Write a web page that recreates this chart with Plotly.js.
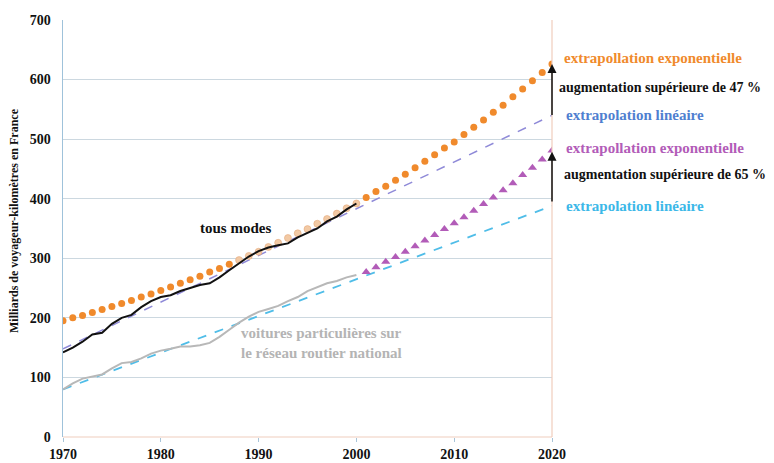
<!DOCTYPE html>
<html><head><meta charset="utf-8">
<script src="https://cdn.plot.ly/plotly-3.0.1.min.js"></script>
<style>body{margin:0;background:#fff}#c{width:774px;height:463px}</style>
</head><body><div id="c"></div>
<script>
var yearsObs = [1970,1971,1972,1973,1974,1975,1976,1977,1978,1979,1980,1981,1982,1983,1984,1985,1986,1987,1988,1989,1990,1991,1992,1993,1994,1995,1996,1997,1998,1999,2000];
var tousModes = [142,150,160,172,175,190,200,205,218,228,235,238,245,250,255,258,268,280,292,303,312,318,322,325,335,342,350,362,370,382,392];
var voitures = [80,90,98,102,105,115,124,126,132,140,145,148,152,152,154,158,168,180,192,202,210,215,220,228,235,245,252,258,262,268,272];

var yearsExpAll = [1970,1971,1972,1973,1974,1975,1976,1977,1978,1979,1980,1981,1982,1983,1984,1985,1986,1987,1988,1989,1990,1991,1992,1993,1994,1995,1996,1997,1998,1999,2000,2001,2002,2003,2004,2005,2006,2007,2008,2009,2010,2011,2012,2013,2014,2015,2016,2017,2018,2019,2020];
var expTous = [195,200,204,209,214,219,224,229,235,240,246,252,258,264,270,277,283,290,297,304,311,319,326,334,342,349,358,366,375,384,392,402,412,421,431,441,452,463,474,485,495,508,520,532,545,557,571,584,598,612,626];

var yearsExpVoit = [2001,2002,2003,2004,2005,2006,2007,2008,2009,2010,2011,2012,2013,2014,2015,2016,2017,2018,2019,2020];
var expVoit = [277,285,294,302,311,320,330,339,349,359,369,380,391,402,414,426,440,452,466,481];

var linYears = [1970,2020];
var linTous = [148,540];
var linVoit = [80,388];

var yTicks = [0,100,200,300,400,500,600,700];
var xTicks = [1970,1980,1990,2000,2010,2020];

var serif = 'Liberation Serif, Times New Roman, serif';

var nPale = 18;
var traces = [
  {x: linYears, y: linTous, mode:'lines', line:{color:'#8f8ad8', width:1.5, dash:'dash'}},
  {x: linYears, y: linVoit, mode:'lines', line:{color:'#4fbde8', width:1.8, dash:'dash'}},
  {x: yearsExpAll.slice(0,nPale), y: expTous.slice(0,nPale), mode:'markers', marker:{color:'#f08a2c', size:7}},
  {x: yearsExpAll.slice(nPale,31), y: expTous.slice(nPale,31), mode:'markers', marker:{color:'#f2c9a4', size:7, line:{color:'#e0a070', width:0.5}}},
  {x: yearsExpAll.slice(31), y: expTous.slice(31), mode:'markers', marker:{color:'#f08a2c', size:7}},
  {x: yearsObs, y: voitures, mode:'lines', line:{color:'#b8b8b8', width:2}},
  {x: yearsObs, y: tousModes, mode:'lines', line:{color:'#111', width:2}},
  {x: yearsExpVoit, y: expVoit, mode:'markers', marker:{color:'#b25cb8', size:8, symbol:'triangle-up'}}
];

function txt(xp, y, text, color, size){
  return {xref:'paper', yref:'y', x:xp, y:y, text:text, showarrow:false, xanchor:'left', yanchor:'middle',
    font:{family:serif, size:size || 15, color:color, weight:'bold'}};
}
var px = function(p){ return (p-63)/489; };

var layout = {
  width:774, height:463,
  margin:{l:63, r:222, t:20, b:26},
  paper_bgcolor:'#fff', plot_bgcolor:'#fff',
  showlegend:false,
  xaxis:{range:[1970,2020], tickvals:xTicks, ticks:'outside', ticklen:4, tickcolor:'#a8c4d8',
    showgrid:false, zeroline:false, showline:false,
    tickfont:{family:serif, size:14, color:'#111', weight:'bold'}},
  yaxis:{range:[0,700], tickvals:yTicks, ticks:'', showgrid:true, gridcolor:'#ccd8e0', gridwidth:1,
    zeroline:false, showline:true, linecolor:'#9fc2da', linewidth:1.5, ticklabelstandoff:8,
    tickfont:{family:serif, size:14, color:'#111', weight:'bold'}},
  shapes:[
    {type:'line', xref:'paper', yref:'paper', x0:1, x1:1, y0:0, y1:1, line:{color:'#f0cdbd', width:1.2}},
    {type:'line', xref:'paper', yref:'paper', x0:0, x1:1, y0:0, y1:0, line:{color:'#f0cdbd', width:1.2}}
  ],
  annotations:[
    {xref:'paper', yref:'paper', x:px(14), y:(437-221)/417, text:'Milliards de voyageur-kilomètres en France',
      textangle:-90, showarrow:false, xanchor:'center', yanchor:'middle',
      font:{family:serif, size:12, color:'#111', weight:'bold'}},
    txt(px(562), 636, 'extrapollation exponentielle', '#f08a2c'),
    txt(px(557), 586, 'augmentation supérieure de 47 %', '#111', 14),
    txt(px(564), 540, 'extrapolation linéaire', '#4f7fd0'),
    txt(px(564), 485, 'extrapollation exponentielle', '#b25cb8'),
    txt(px(562), 441, 'augmentation supérieure de 65 %', '#111', 14),
    txt(px(564), 388, 'extrapolation linéaire', '#3cb8e8'),
    {xref:'x', yref:'y', x:1987.6, y:351, text:'tous modes', showarrow:false,
      font:{family:serif, size:15, color:'#111', weight:'bold'}},
    {xref:'x', yref:'y', x:1988.0, y:157, text:'voitures particulières sur<br>le réseau routier national', showarrow:false,
      xanchor:'left', align:'left', font:{family:serif, size:15, color:'#b4b4b4', weight:'bold'}},
    {xref:'x', yref:'y', axref:'x', ayref:'y', x:2020, y:626, ax:2020, ay:538, showarrow:true,
      arrowhead:2, arrowsize:1.2, arrowwidth:1.5, arrowcolor:'#111', text:'', standoff:0},
    {xref:'x', yref:'y', axref:'x', ayref:'y', x:2020, y:479, ax:2020, ay:393, showarrow:true,
      arrowhead:2, arrowsize:1.2, arrowwidth:1.5, arrowcolor:'#111', text:'', standoff:0}
  ]
};
Plotly.newPlot('c', traces, layout, {displayModeBar:false, staticPlot:true});
</script></body></html>
